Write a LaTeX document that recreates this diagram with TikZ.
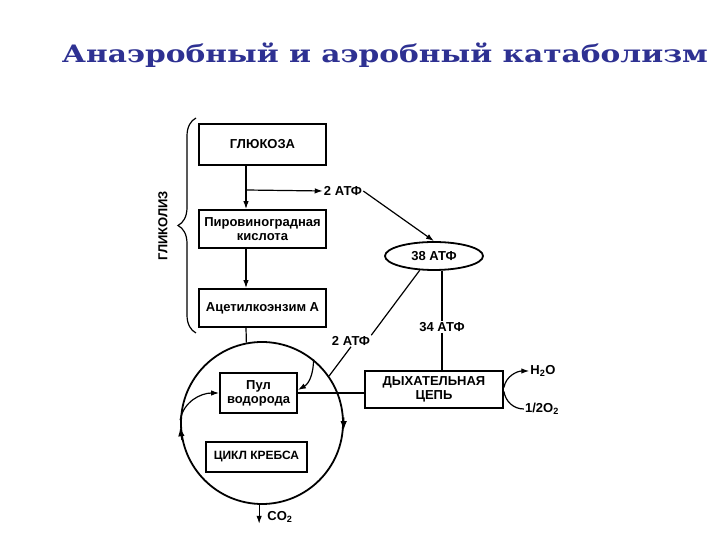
\documentclass[tikz,border=0pt]{standalone}
\usepackage{graphicx}
\usepackage{fontspec}
\setmainfont{Liberation Sans}
\newfontfamily\titlefont{DejaVu Serif}
\usepackage{tikz}
\usetikzlibrary{arrows.meta,positioning,shapes.geometric,decorations.pathreplacing}
\definecolor{TitleBlue}{HTML}{2E3192}
\tikzset{%
  block/.style={draw,line width=1.8pt,align=center,inner sep=0pt,
    minimum width=127pt,minimum height=38pt,font=\bfseries\fontsize{13}{14}\selectfont},
  smallblock/.style={draw,line width=1.8pt,align=center,inner sep=0pt,
    font=\bfseries\fontsize{13}{14}\selectfont},
  tag/.style={inner sep=1pt,font=\bfseries\fontsize{13}{14}\selectfont},
  flow/.style={-{Latex[length=8pt,width=5.5pt]},line width=1.2pt},
  turnflow/.style={-{Latex[length=9pt,width=6.5pt]},line width=1.2pt},
  link/.style={line width=1.2pt}
}

\begin{document}
\begin{tikzpicture}[x=1pt,y=1pt]
      \useasboundingbox (0,0) rectangle (720,540);
      \node[anchor=base,text=TitleBlue] (title) at (385,477)
        {\resizebox{646pt}{\height}{\titlefont\bfseries\fontsize{24}{24}\selectfont Анаэробный и аэробный катаболизм}};
      \node[block, minimum height=41pt] (glucose) at (262.5,395.5) {ГЛЮКОЗА};
      \node[block] (pyruvic) at (262.5,311) {Пировиноградная\\кислота};
      \node[block] (acetyl) at (262.5,232) {Ацетилкоэнзим А};
      \node[draw, circle, line width=1.8pt, minimum size=162pt, inner sep=0pt] (cycle) at (262,117) {};
      \node[smallblock, minimum width=77pt, minimum height=40pt] (pool) at (258.5,147) {Пул\\водорода};
      \node[smallblock, minimum width=101pt, minimum height=30pt,
        font=\bfseries\fontsize{12}{14}\selectfont] (krebs) at (256.5,83) {ЦИКЛ КРЕБСА};
      \node[smallblock, minimum width=138pt, minimum height=37pt] (chain) at (434,150.5) {ДЫХАТЕЛЬНАЯ\\ЦЕПЬ};
      \node[draw, ellipse, line width=1.8pt, minimum width=98pt, minimum height=28pt, inner sep=0pt,
        font=\bfseries\fontsize{13}{14}\selectfont] (total) at (434,284) {38 АТФ};
      \node[tag] (atpA) at (343,349) {2 АТФ};
      \node[tag] (atpB) at (351,199) {2 АТФ};
      \node[tag] (atp34) at (442,213) {34 АТФ};
      \node[tag] (water) at (543,169) {H\textsubscript{2}O};
      \node[tag] (oxygen) at (542,131) {1/2O\textsubscript{2}};
      \node[tag] (co2) at (280,23) {CO\textsubscript{2}};
      \node[tag, rotate=90] (glycolysis) at (163,314) {ГЛИКОЛИЗ};
      \coordinate (spine) at (246,0);
      \coordinate (split) at (246,350);
      \draw[line width=1.2pt, decorate, decoration={brace, amplitude=18pt}] (196,207) -- (196,422);
      \draw[flow] (glucose.south -| spine) -- (pyruvic.north -| spine);
      \draw[flow] (split) -- (atpA.west);
      \draw[flow] (atpA.east) -- (total.north);
      \draw[flow] (pyruvic.south -| spine) -- (acetyl.north -| spine);
      \draw[link] (acetyl.south -| spine) -- (cycle.101);
      \draw[link] (total.225) -- (atpB.north east);
      \draw[link] (atpB.south) -- (cycle.35);
      \draw[flow] (cycle.51) to[out=-90, in=30] ([yshift=3pt]pool.east);
      \draw[flow] (cycle.178) to[out=80, in=180] (pool.west);
      \draw[link] (pool.east) -- (pool.east -| chain.west);
      \draw[link] (total.south -| atp34) -- (atp34.north);
      \draw[link] (atp34.south) -- (chain.north -| atp34);
      \draw[flow] ([yshift=2pt]chain.east) to[out=80, in=180] (water.west);
      \draw[link] (oxygen.west) to[out=180, in=-80] ([yshift=-2pt]chain.east);
      \draw[flow] (cycle.268) -- (cycle.268 |- co2.south);
      \draw[turnflow] (cycle.4) -- (cycle.-5);
      \draw[turnflow] (cycle.192) -- (cycle.183);
    \end{tikzpicture}
\end{document}
